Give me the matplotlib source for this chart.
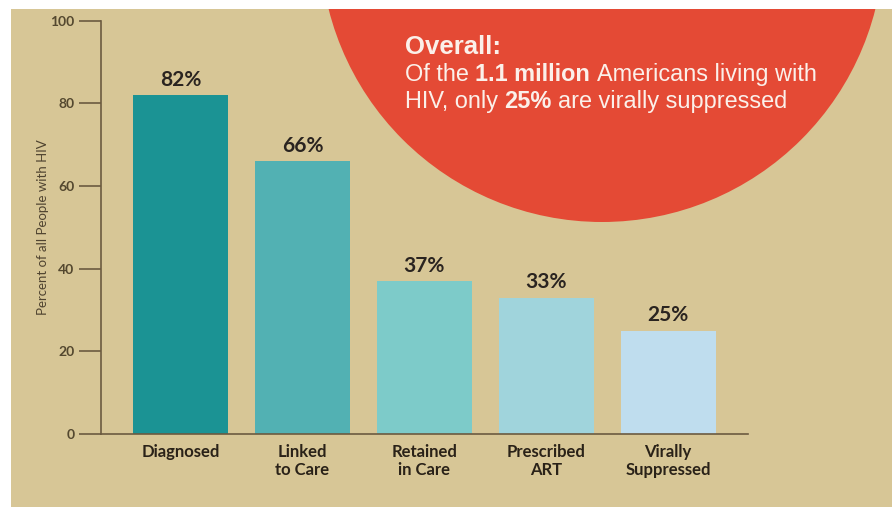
import matplotlib
matplotlib.use("Agg")
import matplotlib.pyplot as plt
from matplotlib.patches import Circle, Rectangle

categories = ["Diagnosed", "Linked\nto Care", "Retained\nin Care", "Prescribed\nART", "Virally\nSuppressed"]
values = [82, 66, 37, 33, 25]
value_labels = ["82%", "66%", "37%", "33%", "25%"]
bar_colors = ["#1b9394", "#52b1b3", "#7dcbc9", "#a0d4dc", "#bfddee"]
yticks = [0, 20, 40, 60, 80, 100]
ylabel = "Percent of all People with HIV"

W, H = 892, 507
fig = plt.figure(figsize=(W / 100, H / 100), dpi=100, facecolor="white")

# background layer in pixel coordinates
bg = fig.add_axes([0, 0, 1, 1], zorder=0)
bg.set_xlim(0, W)
bg.set_ylim(H, 0)
bg.axis("off")
tan = Rectangle((11, 9), W - 11, H - 9, facecolor="#d7c696", edgecolor="none")
bg.add_patch(tan)
circ = Circle((602, -60), 282, facecolor="#e44a35", edgecolor="none")
bg.add_patch(circ)
circ.set_clip_path(tan)

# circle text
renderer = fig.canvas.get_renderer()
txt_color = "#fbf0ea"


def width_of(s, size, weight):
    t = bg.text(0, 0, s, fontsize=size, fontweight=weight, family="Liberation Sans")
    w = t.get_window_extent(renderer).width
    t.remove()
    return w


def draw_line(x, y, parts, size):
    for s, weight in parts:
        lead = len(s) - len(s.lstrip(" "))
        trail = len(s) - len(s.rstrip(" "))
        core = s.strip(" ")
        sp = width_of("x x", size, weight) - width_of("xx", size, weight)
        x += lead * sp
        t = bg.text(x, y, core, fontsize=size, fontweight=weight, color=txt_color,
                    family="Liberation Sans", va="baseline", ha="left")
        x += t.get_window_extent(renderer).width + trail * sp


draw_line(405, 54, [("Overall:", "bold")], 18.5)
draw_line(405, 81, [("Of the ", "normal"), ("1.1 million", "bold"),
                    (" Americans living with", "normal")], 16.9)
draw_line(405, 108, [("HIV, only ", "normal"), ("25%", "bold"),
                     (" are virally suppressed", "normal")], 16.9)

# main chart axes
left, right, top, bottom = 101, 748, 20.7, 434
ax = fig.add_axes([left / W, (H - bottom) / H, (right - left) / W, (bottom - top) / H], zorder=1)
ax.patch.set_alpha(0)
x = list(range(len(categories)))
ax.bar(x, values, width=0.78, color=bar_colors, edgecolor="none")
ax.set_xlim(-0.652, 4.655)
ax.set_ylim(0, 100)
ax.set_yticks(yticks)
ax.set_yticklabels([str(v) for v in yticks], fontsize=10, fontweight="bold",
                   family="Lato", color="#54482f")
ax.tick_params(axis="y", length=16, width=1.2, color="#6b5a40", pad=3)
ax.set_xticks(x)
ax.set_xticklabels(categories, fontsize=12, fontweight="bold", family="Lato",
                   color="#2a2218", linespacing=1.2, va="top")
ax.tick_params(axis="x", length=0, pad=7)
for s in ["top", "right"]:
    ax.spines[s].set_visible(False)
for s in ["left", "bottom"]:
    ax.spines[s].set_color("#6b5a40")
    ax.spines[s].set_linewidth(1.2)
ax.set_ylabel(ylabel, fontsize=9.5, family="Lato", color="#4f4330", labelpad=1)

for xi, v, lab in zip(x, values, value_labels):
    ax.annotate(lab, (xi, v), xytext=(0, 4), textcoords="offset points",
                ha="center", va="bottom", fontsize=15, fontweight="bold",
                family="Lato", color="#2a2420")

fig.savefig("out.png", dpi=100, facecolor="white")
